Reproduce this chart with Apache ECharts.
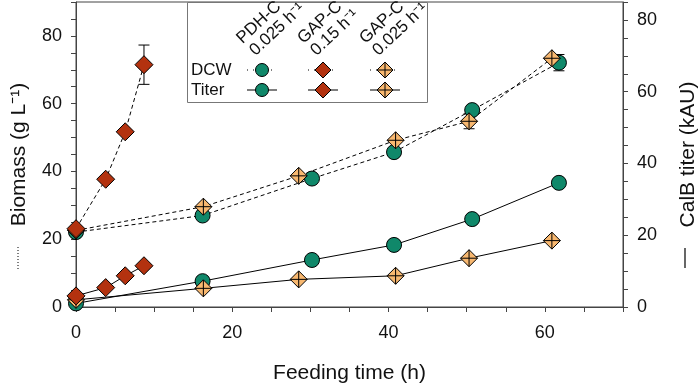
<!DOCTYPE html>
<html>
<head>
<meta charset="utf-8">
<script src="https://cdn.jsdelivr.net/npm/echarts@6/dist/echarts.min.js"></script>
<style>
  html, body { margin: 0; padding: 0; background: #fff; }
  #main { width: 699px; height: 383px; }
</style>
</head>
<body>
<div id="main"></div>
<script>
// feeding time (h) per strain / condition
var tPdh = [0, 16.2, 30.2, 40.7, 50.7, 61.8];
var dcwPdh = [22.1, 27.0, 37.9, 45.7, 58.1, 72.1];
var dcwPdhErr = [0, 0, 0, 0, 0, 2.4];
var titerPdh = [1.0, 7.2, 13.1, 17.3, 24.5, 34.6];

var tGap15 = [0, 3.8, 6.3, 8.7];
var dcwGap15 = [23.1, 37.7, 51.7, 71.5];
var dcwGap15Err = [0, 0, 0, 5.8];
var titerGap15 = [3.1, 5.4, 8.7, 11.5];

var tGap025 = [0, 16.3, 28.5, 40.9, 50.3, 60.9];
var dcwGap025 = [22.6, 29.6, 38.7, 49.2, 54.8, 73.4];
var dcwGap025Err = [0, 0, 0, 0, 2.2, 0];
var titerGap025 = [2.0, 5.2, 7.7, 8.7, 13.6, 18.5];

var legendRows = ['DCW', 'Titer'];
var legendHead1 = ['PDH-C', 'GAP-C', 'GAP-C'];
var legendHead2 = ['0.025 h\u207B\u00B9', '0.15 h\u207B\u00B9', '0.025 h\u207B\u00B9'];

var TEAL = '#10886a', RED = '#b3320f', ORANGE = '#f8b870';
var crossDiamond = 'path://M10,0 L20,10 L10,20 L0,10 Z M10,0 L10,20 M0,10 L20,10';
var FONT = '"Liberation Sans", Arial, sans-serif';

function pairs(t, v) {
    return t.map(function (x, i) { return [x, v[i]]; });
}
function errPoints(t, v, e) {
    var out = [];
    t.forEach(function (x, i) { if (e[i] > 0) out.push([x, v[i], e[i]]); });
    return out;
}
var errData = [].concat(
    errPoints(tPdh, dcwPdh, dcwPdhErr),
    errPoints(tGap15, dcwGap15, dcwGap15Err),
    errPoints(tGap025, dcwGap025, dcwGap025Err)
);

function tickLabel(v) {
    return (v % 20 === 0 && v <= 80) ? String(v) : '';
}

var axisCommon = {
    type: 'value',
    interval: 5,
    axisLine: { show: true, lineStyle: { color: '#444', width: 1 } },
    axisTick: { show: true, length: 5, lineStyle: { color: '#444' } },
    splitLine: { show: false },
    axisLabel: { color: '#111', fontSize: 18, fontFamily: FONT, formatter: tickLabel },
    nameTextStyle: { color: '#111', fontSize: 21, fontFamily: FONT }
};

var dcwLine = { color: '#000', width: 1, type: [4, 3] };
var titerLine = { color: '#000', width: 1 };

function series(name, data, yIdx, symbol, size, color, line) {
    return {
        name: name, type: 'line', yAxisIndex: yIdx, data: data,
        symbol: symbol, symbolSize: size, clip: false,
        itemStyle: { color: color, borderColor: '#000', borderWidth: 1, opacity: 1 },
        lineStyle: line,
        emphasis: { disabled: true },
        animation: false
    };
}

// legend drawn as graphic elements
var legendX = [262, 323, 385];
var legendY = [70, 90];
var g = [{
    type: 'rect', shape: { x: 187.5, y: 2.5, width: 240, height: 100 },
    style: { fill: '#fff', stroke: '#777', lineWidth: 1 }, z: 10
}];
legendRows.forEach(function (r, i) {
    g.push({ type: 'text', x: 191, y: legendY[i], z: 11,
        style: { text: r, fontSize: 17, fontFamily: FONT, fill: '#111', textVerticalAlign: 'middle' } });
});
var rot = 0.75;
legendX.forEach(function (x, i) {
    g.push({ type: 'text', x: x - 17, y: 47, rotation: rot, originX: 0, originY: 0, z: 11,
        style: { text: legendHead1[i], fontSize: 17, fontFamily: FONT, fill: '#111', textVerticalAlign: 'bottom' } });
    g.push({ type: 'text', x: x - 4, y: 59, rotation: rot, originX: 0, originY: 0, z: 11,
        style: { text: legendHead2[i], fontSize: 17, fontFamily: FONT, fill: '#111', textVerticalAlign: 'bottom' } });
    g.push({ type: 'line', z: 11, shape: { x1: x - 15, y1: legendY[0], x2: x + 15, y2: legendY[0] },
        style: { stroke: '#000', lineWidth: 1, lineDash: [1, 5] } });
    g.push({ type: 'line', z: 11, shape: { x1: x - 15, y1: legendY[1], x2: x + 15, y2: legendY[1] },
        style: { stroke: '#000', lineWidth: 1 } });
});
[0, 1].forEach(function (r) {
    var y = legendY[r];
    g.push({ type: 'circle', z: 12, shape: { cx: legendX[0], cy: y, r: 6.5 },
        style: { fill: TEAL, stroke: '#000', lineWidth: 1 } });
    g.push({ type: 'polygon', z: 12, shape: { points: [[legendX[1], y - 8], [legendX[1] + 8, y], [legendX[1], y + 8], [legendX[1] - 8, y]] },
        style: { fill: RED, stroke: '#000', lineWidth: 1 } });
    var x3 = legendX[2];
    g.push({ type: 'polygon', z: 12, shape: { points: [[x3, y - 8], [x3 + 8, y], [x3, y + 8], [x3 - 8, y]] },
        style: { fill: ORANGE, stroke: '#000', lineWidth: 1 } });
    g.push({ type: 'line', z: 12, shape: { x1: x3, y1: y - 8, x2: x3, y2: y + 8 }, style: { stroke: '#000', lineWidth: 1 } });
    g.push({ type: 'line', z: 12, shape: { x1: x3 - 8, y1: y, x2: x3 + 8, y2: y }, style: { stroke: '#000', lineWidth: 1 } });
});
// line-style keys next to the axis names
g.push({ type: 'line', shape: { x1: 18, y1: 247, x2: 18, y2: 270 }, style: { stroke: '#000', lineWidth: 1, lineDash: [1, 2] } });
g.push({ type: 'line', shape: { x1: 685, y1: 248, x2: 685, y2: 268 }, style: { stroke: '#000', lineWidth: 1.2 } });

var myChart = echarts.init(document.getElementById('main'));
var option = {
    animation: false,
    backgroundColor: '#fff',
    grid: { left: 76, right: 76, top: 2, bottom: 76, show: true, borderColor: '#444', borderWidth: 1,
        containLabel: false, outerBoundsMode: 'none' },
    xAxis: Object.assign({}, axisCommon, {
        min: 0, max: 70,
        name: 'Feeding time (h)', nameLocation: 'middle', nameGap: 56,
        axisLabel: Object.assign({}, axisCommon.axisLabel, { margin: 17 })
    }),
    yAxis: [
        Object.assign({}, axisCommon, {
            min: 0, max: 90, position: 'left',
            name: 'Biomass (g L\u207B\u00B9)', nameLocation: 'middle', nameRotate: 90, nameGap: 46,
            axisLabel: Object.assign({}, axisCommon.axisLabel, { margin: 14 })
        }),
        Object.assign({}, axisCommon, {
            min: 0, max: 85, position: 'right',
            name: 'CalB titer (kAU)', nameLocation: 'middle', nameRotate: 90, nameGap: 55,
            axisLabel: Object.assign({}, axisCommon.axisLabel, { margin: 14 })
        })
    ],
    graphic: g,
    series: [
        {
            type: 'custom', yAxisIndex: 0, data: errData, clip: false, z: 1,
            renderItem: function (params, api) {
                var x = api.value(0), y = api.value(1), e = api.value(2);
                var top = api.coord([x, y + e]), bot = api.coord([x, y - e]);
                var w = 5.5, st = { stroke: '#000', lineWidth: 1 };
                return { type: 'group', children: [
                    { type: 'line', shape: { x1: top[0], y1: top[1], x2: bot[0], y2: bot[1] }, style: st },
                    { type: 'line', shape: { x1: top[0] - w, y1: top[1], x2: top[0] + w, y2: top[1] }, style: st },
                    { type: 'line', shape: { x1: bot[0] - w, y1: bot[1], x2: bot[0] + w, y2: bot[1] }, style: st }
                ] };
            }
        },
        series('PDH-C DCW', pairs(tPdh, dcwPdh), 0, 'circle', 15, TEAL, dcwLine),
        series('PDH-C Titer', pairs(tPdh, titerPdh), 1, 'circle', 15, TEAL, titerLine),
        series('GAP-C 0.025 DCW', pairs(tGap025, dcwGap025), 0, crossDiamond, 17, ORANGE, dcwLine),
        series('GAP-C 0.025 Titer', pairs(tGap025, titerGap025), 1, crossDiamond, 17, ORANGE, titerLine),
        series('GAP-C 0.15 DCW', pairs(tGap15, dcwGap15), 0, 'diamond', 18, RED, dcwLine),
        series('GAP-C 0.15 Titer', pairs(tGap15, titerGap15), 1, 'diamond', 18, RED, titerLine)
    ]
};
myChart.setOption(option);
</script>
</body>
</html>
